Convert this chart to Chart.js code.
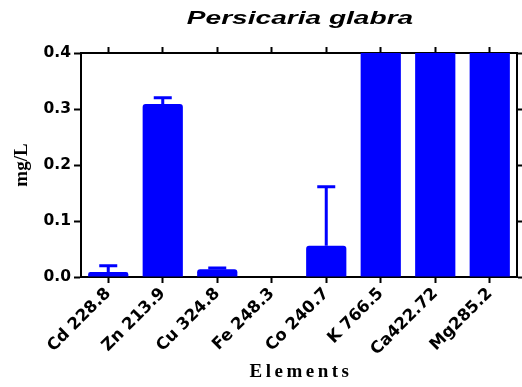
<!DOCTYPE html>
<html>
<head>
<meta charset="utf-8">
<script src="https://cdn.jsdelivr.net/npm/chart.js@4"></script>
<style>
  body { margin: 0; background: #fff; }
  #wrap { width: 522px; height: 387px; }
</style>
</head>
<body>
<div id="wrap"><canvas id="chart"></canvas></div>
<script>
// data
const elements = ["Cd 228.8", "Zn 213.9", "Cu 324.8", "Fe 248.3", "Co 240.7", "K 766.5", "Ca422.72", "Mg285.2"];
const mean_values = [0.009, 0.309, 0.014, 0, 0.056, 0.45, 0.45, 0.45];
const error_values = [0.011, 0.011, 0.002, 0, 0.105, 0, 0, 0];
const y_ticks = [0, 0.1, 0.2, 0.3, 0.4];

const chart_title = "Persicaria glabra";
const x_title = "Elements";
const y_title = "mg/L";

// upper error bars, drawn with the y scale
const errorBars = {
  id: "errorBars",
  afterDatasetsDraw(chart) {
    const ctx = chart.ctx;
    const y = chart.scales.y;
    const meta = chart.getDatasetMeta(0);
    const area = chart.chartArea;
    ctx.save();
    ctx.beginPath();
    ctx.rect(area.left, area.top, area.right - area.left, area.bottom - area.top);
    ctx.clip();
    ctx.strokeStyle = "#0000ff";
    ctx.lineWidth = 3;
    for (let i = 0; i < mean_values.length; i++) {
      if (!error_values[i]) continue;
      const x = meta.data[i].x;
      const y0 = y.getPixelForValue(mean_values[i]);
      const y1 = y.getPixelForValue(mean_values[i] + error_values[i]);
      ctx.beginPath();
      ctx.moveTo(x, y0);
      ctx.lineTo(x, y1);
      ctx.moveTo(x - 9, y1);
      ctx.lineTo(x + 9, y1);
      ctx.stroke();
    }
    ctx.restore();
  }
};

// titles: the original text is wide, so stretch / space it a little
const titles = {
  id: "titles",
  afterDraw(chart) {
    const ctx = chart.ctx;
    const area = chart.chartArea;
    const cx = (area.left + area.right) / 2;
    ctx.save();
    ctx.fillStyle = "#000";
    ctx.textAlign = "center";
    ctx.textBaseline = "middle";

    // chart title
    ctx.save();
    ctx.translate(cx + 1, 19);
    ctx.scale(1.56, 1);
    ctx.font = "italic bold 18px 'Liberation Sans'";
    ctx.fillText(chart_title, 0, 0);
    ctx.restore();

    // x axis title
    ctx.save();
    ctx.font = "bold 19px 'Liberation Serif'";
    ctx.letterSpacing = "3.5px";
    ctx.fillText(x_title, cx + 2, 372);
    ctx.restore();

    // y axis title
    ctx.save();
    ctx.translate(22, (area.top + area.bottom) / 2);
    ctx.rotate(-Math.PI / 2);
    ctx.font = "bold 19px 'Liberation Serif'";
    ctx.fillText(y_title, 0, 0);
    ctx.restore();

    ctx.restore();
  }
};

new Chart(document.getElementById("chart"), {
  type: "bar",
  data: {
    labels: elements,
    datasets: [{
      data: mean_values,
      backgroundColor: "#0000ff",
      borderRadius: 3,
      borderSkipped: "bottom",
      barPercentage: 0.82,
      categoryPercentage: 0.9
    }]
  },
  options: {
    responsive: true,
    maintainAspectRatio: false,
    animation: false,
    layout: { padding: 0 },
    plugins: {
      legend: { display: false },
      tooltip: { enabled: false },
      title: { display: false }
    },
    scales: {
      x: {
        position: "bottom",
        offset: true,
        grid: { display: true, offset: false, drawOnChartArea: false, drawTicks: true, tickLength: 6, tickWidth: 2, tickColor: "#000" },
        border: { display: true, width: 2, color: "#000" },
        ticks: { color: "#000", font: { family: "DejaVu Sans", weight: "bold", size: 16.5 }, minRotation: 45, maxRotation: 45, padding: 1, autoSkip: false },
        afterFit(scale) { scale.height = 110; }
      },
      x2: {
        position: "top",
        type: "category",
        labels: elements,
        offset: true,
        grid: { display: true, offset: false, drawOnChartArea: false, drawTicks: true, tickLength: 6, tickWidth: 2, tickColor: "#000" },
        border: { display: true, width: 2, color: "#000" },
        ticks: { display: false },
        afterFit(scale) { scale.height = 53; }
      },
      y: {
        position: "left",
        min: 0,
        max: 0.4,
        afterBuildTicks(scale) { scale.ticks = y_ticks.map(v => ({ value: v })); },
        grid: { display: true, drawOnChartArea: false, drawTicks: true, tickLength: 7, tickWidth: 2, tickColor: "#000" },
        border: { display: true, width: 2, color: "#000" },
        ticks: { color: "#000", font: { family: "DejaVu Sans", weight: "bold", size: 15.5 }, padding: 3, callback: v => v.toFixed(1) },
        afterFit(scale) { scale.width = 81; }
      },
      y2: {
        position: "right",
        min: 0,
        max: 0.4,
        afterBuildTicks(scale) { scale.ticks = y_ticks.map(v => ({ value: v })); },
        grid: { display: true, drawOnChartArea: false, drawTicks: true, tickLength: 5, tickWidth: 2, tickColor: "#000" },
        border: { display: true, width: 2, color: "#000" },
        ticks: { display: false },
        afterFit(scale) { scale.width = 5; }
      }
    }
  },
  plugins: [errorBars, titles]
});
</script>
</body>
</html>
